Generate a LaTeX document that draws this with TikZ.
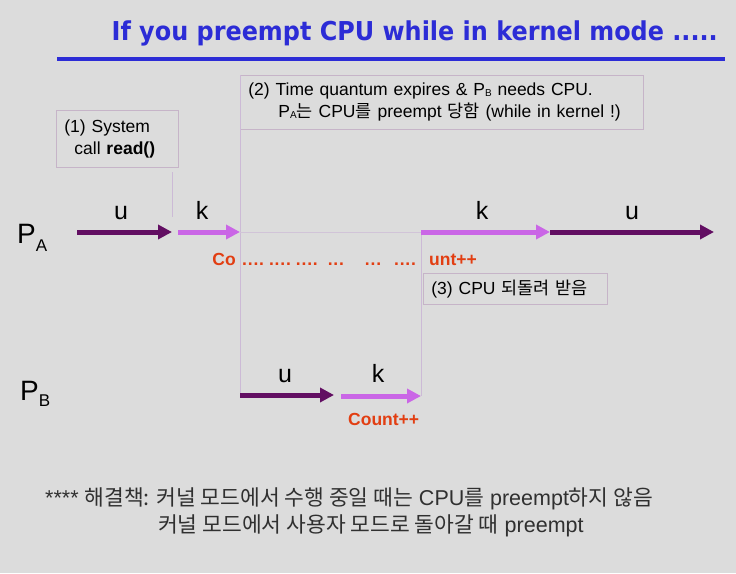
\documentclass[tikz,border=0pt]{standalone}
\usepackage{fontspec}
\setmainfont{Liberation Sans}
\newfontfamily\kr{Noto Sans CJK KR}
\newfontfamily\titlefont[FakeStretch=0.92]{DejaVu Sans}
\usepackage{tikz}
\usetikzlibrary{arrows.meta,positioning}

\definecolor{slidebg}{RGB}{220,220,220}
\definecolor{titleblue}{RGB}{44,44,214}
\definecolor{udark}{RGB}{98,14,98}
\definecolor{klight}{RGB}{202,102,230}
\definecolor{cntred}{RGB}{226,62,18}
\definecolor{boxline}{RGB}{198,180,200}
\definecolor{guide}{RGB}{204,186,214}
\definecolor{foot}{RGB}{48,48,48}

\newcommand\psub[1]{\raisebox{-1pt}{\fontsize{10}{10}\selectfont #1}}
\newcommand\dotsfour{.\kern0.8pt.\kern0.8pt.\kern0.8pt.}
\newcommand\dotsthree{.\kern0.8pt.\kern0.8pt.}

\begin{document}
\begin{tikzpicture}[x=1pt,y=-1pt,
    uarr/.style={draw=udark,line width=5pt,-{Triangle[length=14pt,width=14pt]}},
    karr/.style={draw=klight,line width=5pt,-{Triangle[length=14pt,width=14pt]}},
    mark label/.style={font=\fontsize{25}{25}\selectfont,anchor=base,inner sep=0pt},
    note/.style={draw=boxline,line width=0.8pt,anchor=north west,align=left,
      font=\fontsize{17.5}{22}\selectfont,inner xsep=8pt},
    counter/.style={text=cntred,font=\bfseries\fontsize{17.5}{20}\selectfont,inner sep=0pt},
    proc/.style={font=\fontsize{28}{28}\selectfont,anchor=base west,inner sep=0pt},
    guideline/.style={draw=guide,line width=0.7pt},
    remedy/.style={text=foot,font=\fontsize{21.5}{24}\selectfont,anchor=base west,inner sep=0pt}]
  \fill[slidebg] (0,0) rectangle (736,573);
  \useasboundingbox (0,0) rectangle (736,573);

  \node[text=titleblue,font=\titlefont\bfseries\fontsize{26}{30}\selectfont,
    anchor=base east,inner sep=0pt] (title) at (718,40)
    {If you preempt CPU while in kernel mode .....};
  \draw[titleblue,line width=4pt] (57,59) -- (725,59);

  \node[note,minimum width=122pt,minimum height=57pt,text width=106pt] (sys) at (56,110)
    {(1) System\\\hspace*{10pt}call \textbf{read()}};
  \node[note,minimum width=403pt,minimum height=54pt,text width=387pt] (quantum) at (240,75)
    {(2) Time quantum expires \& P\psub{B} needs CPU.\\
     \hspace*{30pt}P\psub{A}{\kr 는} CPU{\kr 를} preempt {\kr 당함} (while in kernel !)};
  \node[note,minimum width=184pt,minimum height=31pt,text width=168pt] (back) at (423,273)
    {(3) CPU {\kr 되돌려 받음}};

  \node[proc] (pa) at (17,243) {P\raisebox{-8pt}{\fontsize{17}{17}\selectfont A}};
  \node[proc] (pb) at (20,400) {P\raisebox{-6pt}{\fontsize{17}{17}\selectfont B}};

  \coordinate (a0) at (77,232);
  \coordinate (a1) at (172,232);
  \coordinate (a2) at (178,232);
  \coordinate (a3) at (240,232);
  \coordinate (a4) at (421,232);
  \coordinate (a5) at (550,232);
  \coordinate (a6) at (714,232);
  \coordinate (b0) at (240,395);
  \coordinate (b1) at (334,395);
  \coordinate (b2) at (341,396);
  \coordinate (b3) at (421,396);
  \coordinate (c0) at (172,172);
  \coordinate (c1) at (172,217);

  \draw[guideline] (quantum.north west) -- (b0);
  \draw[guideline] (a4) -- (b3);
  \draw[guideline] (c0) -- (c1);
  \draw[guide!70!slidebg,line width=1pt] (a3) -- (a4);

  \draw[uarr] (a0) -- (a1);
  \draw[karr] (a2) -- (a3);
  \draw[karr] (a4) -- (a5);
  \draw[uarr] (a5) -- (a6);
  \draw[uarr] (b0) -- (b1);
  \draw[karr] (b2) -- (b3);

  \node[mark label] (u1) at (121,219) {u};
  \node[mark label] (k1) at (202,219) {k};
  \node[mark label] (k2) at (482,219) {k};
  \node[mark label] (u2) at (632,219) {u};
  \node[mark label] (u3) at (285,382) {u};
  \node[mark label] (k3) at (378,382) {k};

  \node[counter,anchor=base east] (co) at (236,265) {Co};
  \node[counter,anchor=base west] (dots) at (242,265)
    {\dotsfour\hspace{5pt}\dotsfour\hspace{5pt}\dotsfour\hspace{10pt}\dotsthree\hspace{21pt}\dotsthree\hspace{13pt}\dotsfour};
  \node[counter,anchor=base west] (unt) at (429,265) {unt++};
  \node[counter,anchor=base west] (count) at (348,425) {Count++};

  \node[remedy] (fix1) at (45,505)
    {**** {\kr 해결책: 커널 모드에서 수행 중일 때는} CPU{\kr 를} preempt{\kr 하지 않음}};
  \node[remedy] (fix2) at (158,532)
    {{\kr 커널 모드에서 사용자 모드로 돌아갈 때} preempt};
\end{tikzpicture}
\end{document}
